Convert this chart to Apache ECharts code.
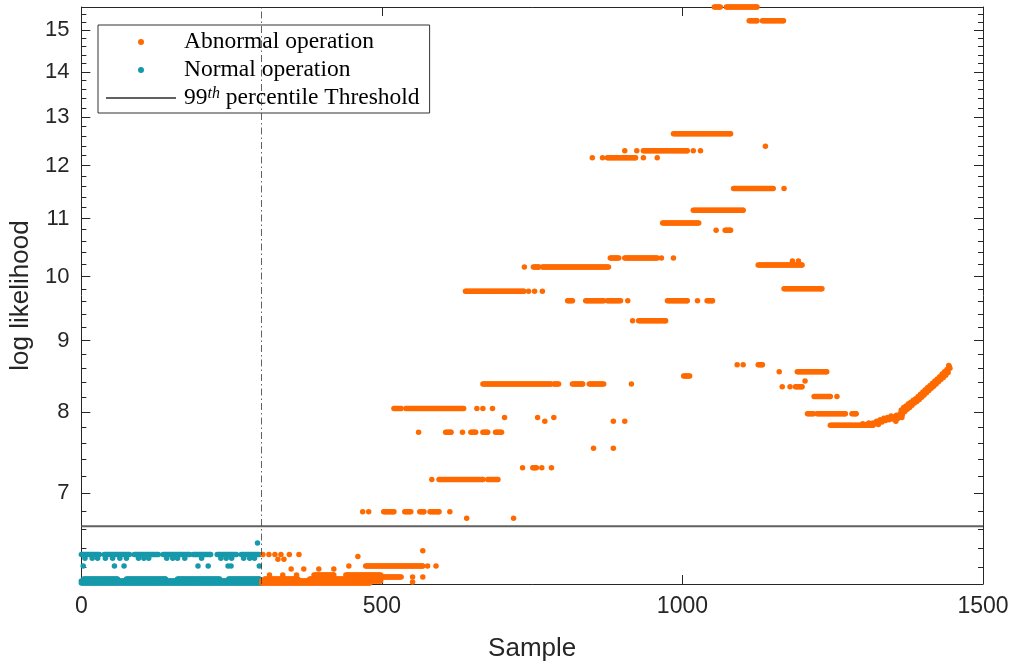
<!DOCTYPE html>
<html><head><meta charset="utf-8">
<script src="https://cdn.jsdelivr.net/npm/echarts@6/dist/echarts.min.js"></script>
<style>html,body{margin:0;padding:0;background:#fff}#c{width:1013px;height:667px}</style>
</head><body><div id="c"></div>
<script>
// ---- data ----
const xTicks = [0, 500, 1000, 1500];
const yTicks = [7, 8, 9, 10, 11, 12, 13, 14, 15];
const yMinorTicks = [6.2, 6.4, 6.6, 6.8, 7.2, 7.4, 7.6, 7.8, 8.2, 8.4, 8.6, 8.8, 9.2, 9.4, 9.6, 9.8,
  10.2, 10.4, 10.6, 10.8, 11.2, 11.4, 11.6, 11.8, 12.2, 12.4, 12.6, 12.8, 13.2, 13.4, 13.6, 13.8,
  14.2, 14.4, 14.6, 14.8, 15.2, 15.4];
const yRange = [6.03, 15.58];
const xRange = [0, 1500];
const thresholdValue = 6.63;
const boundarySample = 300;

// runs of observed points: [value, firstSample, lastSample]
const normalRuns = [
  [6.45, 293, 293],
  [6.33, 0, 30], [6.33, 38, 80], [6.33, 88, 128], [6.33, 136, 180], [6.33, 186, 215], [6.33, 226, 258], [6.33, 266, 296],
  [6.29, 6, 6], [6.29, 18, 18], [6.29, 27, 27], [6.29, 40, 40], [6.29, 52, 52], [6.29, 64, 64], [6.29, 75, 75], [6.29, 95, 95],
  [6.29, 104, 104], [6.29, 112, 112], [6.29, 142, 142], [6.29, 152, 152], [6.29, 160, 160], [6.29, 172, 172], [6.29, 200, 200],
  [6.29, 232, 232], [6.29, 241, 241], [6.29, 250, 250], [6.29, 270, 270], [6.29, 280, 280], [6.29, 288, 288],
  [6.21, 3, 3], [6.21, 55, 55], [6.21, 71, 71], [6.21, 194, 194], [6.21, 211, 211], [6.21, 244, 244], [6.21, 249, 249], [6.21, 296, 296],
  [6.08, 4, 60], [6.08, 75, 140], [6.08, 160, 230], [6.08, 245, 296],
  [6.06, 0, 299], [6.04, 0, 299]
];
const abnormalRuns = [
  [6.33, 302, 302], [6.33, 312, 312], [6.33, 322, 322], [6.33, 332, 332], [6.33, 346, 346], [6.33, 362, 362],
  [6.37, 568, 568], [6.31, 460, 460], [6.28, 327, 327], [6.28, 337, 337],
  [6.21, 445, 445], [6.21, 473, 568], [6.21, 576, 576], [6.21, 590, 590],
  [6.18, 349, 349], [6.18, 370, 370], [6.18, 395, 395], [6.18, 420, 420],
  [6.12, 313, 313], [6.12, 335, 335], [6.12, 358, 358], [6.12, 387, 420], [6.12, 440, 498],
  [6.10, 448, 532], [6.10, 551, 551], [6.10, 568, 568],
  [6.08, 305, 360], [6.08, 380, 470],
  [6.06, 300, 498], [6.04, 300, 480], [6.05, 551, 551],
  [6.79, 468, 468], [6.79, 478, 478], [6.79, 503, 520], [6.79, 538, 548], [6.79, 563, 570], [6.79, 580, 595], [6.79, 613, 613],
  [6.72, 641, 641], [6.72, 719, 719],
  [7.16, 583, 583], [7.16, 595, 668], [7.16, 676, 693],
  [7.30, 734, 734], [7.30, 751, 757], [7.30, 766, 766], [7.30, 782, 782],
  [7.54, 852, 852], [7.54, 885, 885],
  [7.74, 561, 561], [7.74, 606, 615], [7.74, 634, 634], [7.74, 648, 656], [7.74, 668, 676], [7.74, 689, 699],
  [7.88, 771, 771], [7.88, 885, 885], [7.88, 904, 904],
  [7.93, 704, 704], [7.93, 759, 759], [7.93, 786, 786],
  [7.98, 1208, 1218], [7.98, 1224, 1271], [7.98, 1282, 1289],
  [8.05, 520, 532], [8.05, 540, 636], [8.05, 658, 658], [8.05, 668, 668], [8.05, 684, 684],
  [8.21, 1219, 1246], [8.21, 1257, 1257],
  [8.34, 1166, 1166], [8.34, 1179, 1179], [8.34, 1188, 1199],
  [8.38, 668, 781], [8.38, 786, 794], [8.38, 817, 834], [8.38, 845, 869], [8.38, 915, 915],
  [8.42, 1204, 1204],
  [8.49, 1002, 1012],
  [8.55, 1161, 1161], [8.55, 1191, 1240],
  [8.65, 1091, 1091], [8.65, 1101, 1101], [8.65, 1126, 1133],
  [9.30, 917, 917], [9.30, 927, 972],
  [9.61, 809, 817], [9.61, 839, 869], [9.61, 875, 897], [9.61, 909, 909], [9.61, 975, 1008], [9.61, 1025, 1025], [9.61, 1041, 1050],
  [9.76, 639, 736], [9.76, 744, 744], [9.76, 754, 754], [9.76, 767, 767],
  [9.80, 1169, 1232],
  [10.16, 737, 737], [10.16, 752, 761], [10.16, 767, 877],
  [10.19, 1126, 1199], [10.26, 1183, 1183], [10.26, 1193, 1193],
  [10.31, 880, 894], [10.31, 904, 958], [10.31, 965, 965], [10.31, 985, 985],
  [10.79, 1056, 1056], [10.79, 1071, 1080],
  [10.92, 967, 1027],
  [11.15, 1018, 1101],
  [11.56, 1085, 1151], [11.56, 1169, 1169],
  [12.16, 850, 850], [12.16, 867, 867], [12.16, 875, 922], [12.16, 935, 935], [12.16, 958, 958],
  [12.30, 904, 904], [12.30, 924, 924], [12.30, 935, 1008], [12.30, 1018, 1018], [12.30, 1030, 1030],
  [12.39, 1138, 1138],
  [12.65, 985, 1080],
  [15.23, 1111, 1124], [15.23, 1133, 1168],
  [15.58, 1053, 1063], [15.58, 1073, 1124],
  [7.83, 1246, 1317]
];
// individual points of the final rising trend
const abnormalCurve = [
  [1300, 7.85], [1306, 7.84], [1310, 7.86], [1317, 7.86], [1320, 7.85], [1323, 7.88], [1326, 7.84], [1329, 7.9],
  [1332, 7.87], [1335, 7.92], [1338, 7.89], [1341, 7.93], [1344, 7.9], [1347, 7.95], [1350, 7.91], [1353, 7.94],
  [1355, 7.88], [1356, 7.96], [1359, 7.92], [1362, 7.98], [1364, 8.03], [1365, 7.93], [1366, 7.97], [1368, 8.06],
  [1370, 8.01], [1372, 8.08], [1374, 8.04], [1376, 8.11], [1378, 8.06], [1380, 8.13], [1382, 8.09], [1384, 8.16],
  [1386, 8.12], [1388, 8.18], [1390, 8.14], [1392, 8.21], [1394, 8.17], [1396, 8.24], [1398, 8.2], [1400, 8.27],
  [1402, 8.23], [1404, 8.3], [1406, 8.26], [1408, 8.33], [1410, 8.29], [1412, 8.36], [1414, 8.32], [1416, 8.39],
  [1418, 8.35], [1420, 8.42], [1422, 8.38], [1424, 8.45], [1426, 8.41], [1428, 8.48], [1430, 8.44], [1432, 8.52],
  [1434, 8.47], [1436, 8.55], [1438, 8.5], [1440, 8.58], [1442, 8.54], [1443, 8.64], [1444, 8.62], [1445, 8.6]
];

// ---- build ----
function expand(runs, step) {
  const out = [];
  runs.forEach(function (r) {
    const v = r[0], a = r[1], b = r[2];
    for (let s = a; s <= b; s += step) out.push([s, v]);
    if ((b - a) % step !== 0) out.push([b, v]);
  });
  return out;
}
const normalData = expand(normalRuns, 2);
const abnormalData = expand(abnormalRuns, 2).concat(abnormalCurve);

const ORANGE = '#FF6A00', TEAL = '#1699AA', AX = '#262626';
const tickFont = { fontFamily: 'Liberation Sans', fontSize: 22, color: AX };
const nameFont = { fontFamily: 'Liberation Sans', fontSize: 26, color: AX };

function yAx(pos, major, labels) {
  return {
    type: 'log', logBase: 10, min: yRange[0], max: yRange[1], position: pos,
    splitLine: { show: false },
    axisLine: { show: major, lineStyle: { color: AX, width: 1 } },
    axisTick: { show: true, inside: true, length: major ? 9 : 5, customValues: major ? yTicks : yMinorTicks, lineStyle: { color: AX, width: 1 } },
    axisLabel: Object.assign({ show: labels, customValues: yTicks, margin: 12, formatter: function (v) { return String(Math.round(v)); } }, tickFont),
    name: labels ? 'log likelihood' : '', nameLocation: 'middle', nameGap: 41,
    nameTextStyle: nameFont
  };
}

const chart = echarts.init(document.getElementById('c'), null, { renderer: 'canvas' });
chart.setOption({
  animation: false,
  backgroundColor: '#fff',
  grid: { left: 80, right: 30, top: 7, bottom: 81, containLabel: false },
  xAxis: [
    { type: 'value', min: xRange[0], max: xRange[1], interval: 500, position: 'bottom',
      splitLine: { show: false },
      axisLine: { lineStyle: { color: AX, width: 1 } },
      axisTick: { inside: true, length: 9, lineStyle: { color: AX } },
      axisLabel: Object.assign({ margin: 11, customValues: xTicks, formatter: function (v) { return String(v); } }, tickFont, { fontSize: 23 }),
      name: 'Sample', nameLocation: 'middle', nameGap: 52,
      nameTextStyle: nameFont },
    { type: 'value', min: xRange[0], max: xRange[1], interval: 500, position: 'top',
      splitLine: { show: false },
      axisLine: { lineStyle: { color: AX, width: 1 } },
      axisTick: { inside: true, length: 9, lineStyle: { color: AX } },
      axisLabel: { show: false } }
  ],
  yAxis: [yAx('left', true, true), yAx('left', false, false), yAx('right', true, false), yAx('right', false, false)],
  legend: {
    orient: 'vertical', left: 98, top: 25,
    backgroundColor: '#fff', borderColor: '#333', borderWidth: 1,
    padding: [5, 10, 3, 7], itemGap: 4, itemWidth: 70, itemHeight: 6,
    textStyle: { fontFamily: 'Liberation Serif', fontSize: 23.5, color: '#000', lineHeight: 23, padding: [0, 0, 0, 3],
      rich: { n: { fontFamily: 'Liberation Serif', fontSize: 23.5, lineHeight: 24, color: '#000' },
              s: { fontFamily: 'Liberation Serif', fontSize: 16, fontStyle: 'italic', lineHeight: 12, verticalAlign: 'top', color: '#000' } } },
    formatter: function (name) {
      if (name.indexOf('99') === 0) return '{n|99}{s|th}{n| percentile Threshold}';
      return name;
    },
    data: [
      { name: 'Abnormal operation', icon: 'circle' },
      { name: 'Normal operation', icon: 'circle' },
      { name: '99th percentile Threshold', itemStyle: { opacity: 0 } }
    ]
  },
  series: [
    { name: 'Normal operation', type: 'scatter', xAxisIndex: 0, yAxisIndex: 0, data: normalData,
      symbolSize: 5.5, itemStyle: { color: TEAL, opacity: 1 }, progressive: 0, silent: true },
    { name: 'Abnormal operation', type: 'scatter', xAxisIndex: 0, yAxisIndex: 0, data: abnormalData,
      symbolSize: 5.5, itemStyle: { color: ORANGE, opacity: 1 }, progressive: 0, silent: true },
    { name: '99th percentile Threshold', type: 'line', xAxisIndex: 0, yAxisIndex: 0,
      data: [[xRange[0], thresholdValue], [xRange[1], thresholdValue]],
      symbol: 'none', lineStyle: { color: '#616161', width: 2 }, itemStyle: { color: '#616161' }, silent: true,
      markLine: { silent: true, symbol: 'none', label: { show: false },
        lineStyle: { color: '#3a3a3a', width: 0.8, type: [7, 3, 1.5, 3] },
        data: [{ xAxis: boundarySample }] } }
  ]
});
</script>
</body></html>
